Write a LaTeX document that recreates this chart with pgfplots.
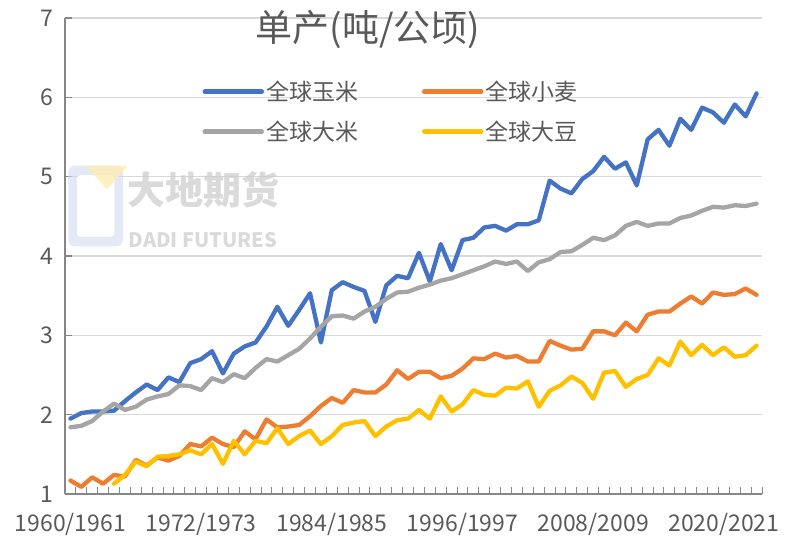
\documentclass[border=0pt]{standalone}
\usepackage{fontspec}
\setmainfont{Noto Sans CJK SC}
\usepackage{pgfplots}
\usepackage{pgfplotstable}
\pgfplotsset{compat=1.18}
\definecolor{cblue}{HTML}{4472C4}
\definecolor{corange}{HTML}{ED7D31}
\definecolor{cgray}{HTML}{A5A5A5}
\definecolor{cyellow}{HTML}{FFC000}
\definecolor{txt}{HTML}{595959}
\definecolor{gridc}{HTML}{D9D9D9}
\definecolor{axc}{HTML}{868686}
\pgfplotstableread{
x corn wheat rice soy
0 1.95 1.17 1.84 nan
1 2.02 1.09 1.86 nan
2 2.04 1.21 1.92 nan
3 2.04 1.13 2.04 nan
4 2.05 1.24 2.14 1.13
5 2.17 1.22 2.06 1.24
6 2.28 1.43 2.10 1.41
7 2.38 1.36 2.19 1.35
8 2.31 1.46 2.23 1.47
9 2.47 1.42 2.26 1.48
10 2.41 1.48 2.37 1.50
11 2.65 1.63 2.36 1.55
12 2.70 1.60 2.31 1.50
13 2.80 1.71 2.46 1.63
14 2.52 1.63 2.41 1.38
15 2.77 1.59 2.51 1.67
16 2.86 1.79 2.46 1.50
17 2.91 1.69 2.59 1.67
18 3.11 1.94 2.70 1.64
19 3.36 1.84 2.67 1.83
20 3.12 1.85 2.75 1.63
21 3.32 1.87 2.83 1.73
22 3.53 1.98 2.96 1.80
23 2.91 2.11 3.11 1.63
24 3.57 2.21 3.24 1.73
25 3.67 2.15 3.25 1.87
26 3.61 2.31 3.21 1.90
27 3.56 2.28 3.30 1.92
28 3.17 2.28 3.36 1.73
29 3.63 2.38 3.46 1.85
30 3.75 2.56 3.54 1.93
31 3.72 2.45 3.55 1.95
32 4.04 2.54 3.60 2.06
33 3.68 2.54 3.64 1.95
34 4.15 2.46 3.69 2.23
35 3.82 2.49 3.72 2.04
36 4.20 2.58 3.77 2.13
37 4.23 2.71 3.82 2.31
38 4.36 2.70 3.87 2.25
39 4.38 2.77 3.93 2.24
40 4.32 2.72 3.90 2.34
41 4.40 2.74 3.93 2.33
42 4.40 2.67 3.81 2.42
43 4.45 2.67 3.92 2.10
44 4.95 2.93 3.96 2.30
45 4.85 2.87 4.05 2.37
46 4.79 2.82 4.06 2.48
47 4.97 2.83 4.14 2.40
48 5.07 3.05 4.23 2.20
49 5.25 3.05 4.20 2.53
50 5.10 3.00 4.26 2.55
51 5.18 3.16 4.38 2.35
52 4.89 3.05 4.43 2.45
53 5.47 3.26 4.38 2.50
54 5.59 3.30 4.41 2.71
55 5.39 3.30 4.41 2.62
56 5.73 3.40 4.48 2.92
57 5.59 3.49 4.51 2.75
58 5.87 3.40 4.57 2.88
59 5.81 3.54 4.62 2.75
60 5.68 3.51 4.61 2.85
61 5.91 3.52 4.64 2.73
62 5.76 3.59 4.63 2.75
63 6.05 3.51 4.66 2.87
}\datatable
\begin{document}
\begin{tikzpicture}
\useasboundingbox (-65bp,-46bp) rectangle (721bp,494bp);
\begin{axis}[
  at={(0,0)}, anchor=south west,
  scale only axis, width=697bp, height=476bp,
  xmin=-0.5, xmax=63.5, ymin=1, ymax=7,
  axis x line*=bottom, axis y line*=left,
  axis line style={axc, line width=1.3bp},
  xtick={0,12,24,36,48,60},
  xticklabels={1960/1961,1972/1973,1984/1985,1996/1997,2008/2009,2020/2021},
  major x tick style={draw=none},
  minor xtick={-0.5,0.5,...,63.5},
  minor x tick style={axc, line width=1bp},
  minor tick length=7bp,
  ytick={1,...,7},
  ytick style={axc, line width=1.3bp},
  major tick length=7bp,
  tick align=inside,
  ymajorgrids, major grid style={gridc, line width=1.3bp},
  tick label style={font=\fontsize{23bp}{27bp}\selectfont, text=txt},
  /pgf/number format/assume math mode=true,
  xticklabel style={yshift=-16bp},
  yticklabel style={xshift=-8bp},
  legend columns=2,
  legend style={draw=none, fill=none, at={(rel axis cs:0.197,0.872)}, anchor=north west,
    font=\fontsize{23bp}{27bp}\selectfont, text=txt, inner sep=0pt,
    /tikz/every even column/.append style={column sep=62bp}, row sep=15bp},
  legend image code/.code={\draw[#1,line width=4.5bp,line cap=round] (0bp,0bp) -- (57bp,0bp);},
  every axis plot/.append style={line width=4.3bp, line join=round, line cap=round, mark=none},
  clip=false,
]
\node[text=gridc!85!gray, font=\fontsize{38bp}{42bp}\selectfont\bfseries, opacity=0.7] at (rel axis cs:0.198,0.638) {大地期货};
\node[text=gridc!85!gray, font=\fontsize{20bp}{24bp}\selectfont\bfseries, opacity=0.7] at (rel axis cs:0.198,0.534) {DADI FUTURES};
\fill[rounded corners=6bp, fill=cblue!25, opacity=0.6] (rel axis cs:0.005,0.52) rectangle (rel axis cs:0.083,0.69);
\fill[rounded corners=4bp, fill=white] (rel axis cs:0.017,0.54) rectangle (rel axis cs:0.071,0.67);
\fill[cyellow!30, opacity=0.8] (rel axis cs:0.03,0.69) -- (rel axis cs:0.09,0.69) -- (rel axis cs:0.06,0.64) -- cycle;
\addplot[cblue] table[x=x,y=corn] {\datatable};
\addplot[corange] table[x=x,y=wheat] {\datatable};
\addplot[cgray] table[x=x,y=rice] {\datatable};
\addplot[cyellow] table[x=x,y=soy] {\datatable};
\legend{全球玉米,全球小麦,全球大米,全球大豆}
\node[text=txt, font=\fontsize{37bp}{42bp}\selectfont] at (rel axis cs:0.435,0.975) {单产(吨/公顷)};
\end{axis}
\end{tikzpicture}
\end{document}
